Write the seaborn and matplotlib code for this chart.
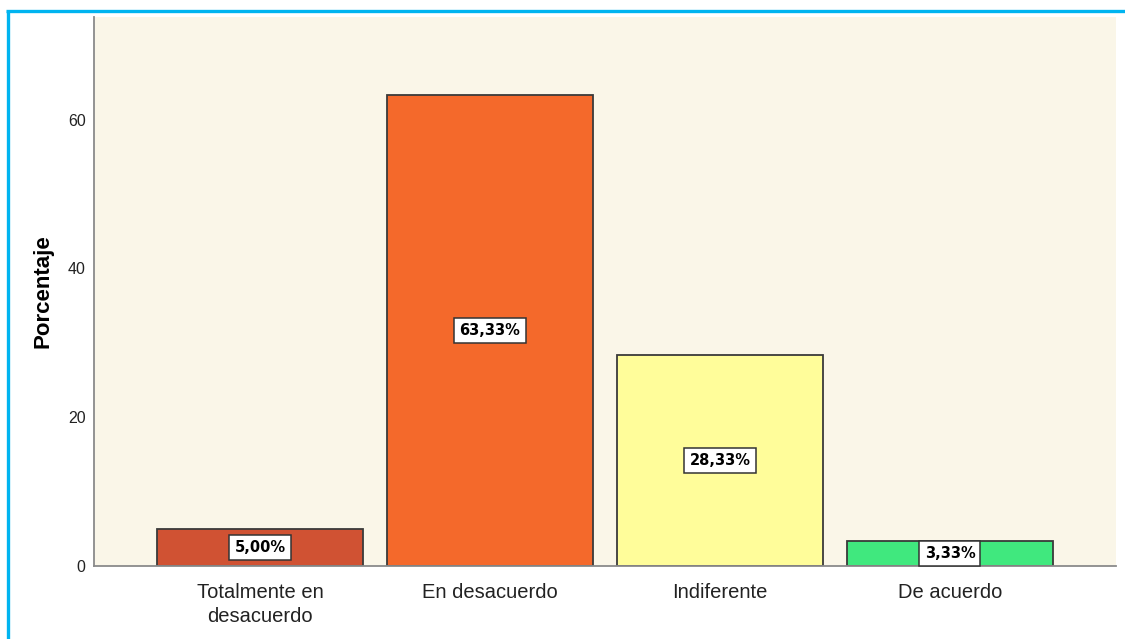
import matplotlib
matplotlib.use("Agg")
import matplotlib.pyplot as plt
import seaborn as sns
from matplotlib.lines import Line2D

categories = ["Totalmente en\ndesacuerdo", "En desacuerdo", "Indiferente", "De acuerdo"]
values = [5.00, 63.33, 28.33, 3.33]
labels = ["5,00%", "63,33%", "28,33%", "3,33%"]
colors = ["#D05233", "#F4692B", "#FFFD9A", "#40E87E"]
yticks = [0, 20, 40, 60]

sns.set_theme(style="white")
plt.rcParams['font.family'] = ['Liberation Sans', 'DejaVu Sans']

fig = plt.figure(figsize=(11.25, 6.39), dpi=100)
ax = fig.add_axes([94/1125, 1-566/639, (1116-94)/1125, (566-17)/639])
ax.set_facecolor("#FAF6E8")

sns.barplot(x=categories, y=values, hue=categories, palette=colors, width=0.896,
            edgecolor="#3a3a3a", linewidth=1.3, legend=False, ax=ax, saturation=1)

ax.set_xlim(-0.722, 3.722)
ax.set_ylim(0, 73.8)
ax.set_yticks(yticks)
ax.set_yticklabels([str(t) for t in yticks], fontsize=11.5, color="#222222")
ax.set_xticks(range(len(categories)))
ax.set_xticklabels(categories, fontsize=14.5, color="#222222", linespacing=1.38)
ax.tick_params(axis='x', length=0, pad=12)
ax.tick_params(axis='y', length=0, pad=6)
ax.set_ylabel("Porcentaje", fontsize=16, fontweight="bold", color="black", labelpad=10)
ax.set_xlabel("")

for s in ["top", "right"]:
    ax.spines[s].set_visible(False)
for s in ["left", "bottom"]:
    ax.spines[s].set_color("#8a8a8a")
    ax.spines[s].set_linewidth(1.3)

for i, (v, lab) in enumerate(zip(values, labels)):
    ax.text(i, v / 2, lab, ha="center", va="center", fontsize=10.5, fontweight="bold",
            family=['DejaVu Sans Condensed', 'DejaVu Sans'],
            color="black",
            bbox=dict(boxstyle="square,pad=0.35", facecolor="white", edgecolor="#333333", linewidth=1.1))

# cyan frame (top and left)
fig.add_artist(Line2D([7.5/1125, 7.5/1125], [0, 1-10.5/639], transform=fig.transFigure,
                      color="#00B4F0", linewidth=2.4, solid_capstyle="butt"))
fig.add_artist(Line2D([6/1125, 1], [1-10.5/639, 1-10.5/639], transform=fig.transFigure,
                      color="#00B4F0", linewidth=2.4, solid_capstyle="butt"))

fig.savefig("out.png", dpi=100)
